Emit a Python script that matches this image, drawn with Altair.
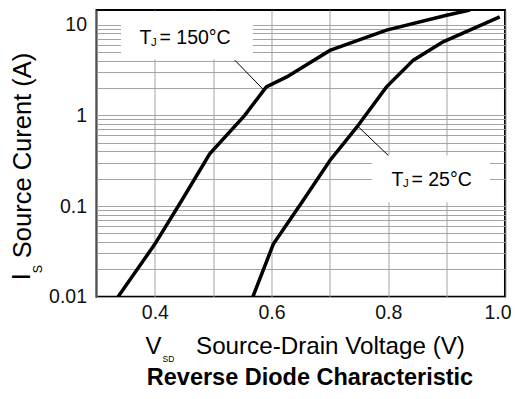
import altair as alt
import pandas as pd

# ---- data ----
v_150 = [0.337, 0.400, 0.446, 0.494, 0.554, 0.591, 0.626, 0.700, 0.797, 0.900, 0.940]
i_150 = [0.01, 0.038, 0.115, 0.377, 1.00, 2.06, 2.65, 5.20, 8.70, 12.7, 14.5]

v_25 = [0.568, 0.603, 0.654, 0.700, 0.746, 0.797, 0.843, 0.894, 0.991]
i_25 = [0.01, 0.038, 0.115, 0.318, 0.74, 2.06, 4.06, 6.46, 12.2]

series_names = ["TJ = 150°C", "TJ = 25°C"]

x_domain = [0.3, 1.0]
y_domain = [0.01, 14.5]
x_grid = [0.3, 0.4, 0.5, 0.6, 0.7, 0.8, 0.9, 1.0]
y_grid = [m * d for d in [0.01, 0.1, 1.0] for m in range(1, 10)] + [10.0]

# annotation label boxes (data coordinates) and leader lines
box_v1 = [0.342, 0.772]
box_v2 = [0.568, 0.974]
box_i1 = [4.16, 0.110]
box_i2 = [14.0, 0.361]
lead_v1 = [0.537, 0.746]
lead_v2 = [0.587, 0.800]
lead_i1 = [4.06, 0.776]
lead_i2 = [1.89, 0.361]

FONT = "Liberation Sans"

curves = pd.DataFrame(
    {"v": v_150 + v_25, "i": i_150 + i_25,
     "s": [series_names[0]] * len(v_150) + [series_names[1]] * len(v_25)}
)
boxes = pd.DataFrame({"v": box_v1, "v2": box_v2, "i": box_i1, "i2": box_i2})
leads = pd.DataFrame({"v": lead_v1, "v2": lead_v2, "i": lead_i1, "i2": lead_i2})
dummy = pd.DataFrame({"a": [0]})

xs = alt.Scale(domain=x_domain, nice=False, zero=False)
ys = alt.Scale(type="log", domain=y_domain, nice=False)

x_axis = alt.Axis(
    values=x_grid, grid=True, ticks=False, domain=False, title=None,
    labelExpr="(round(datum.value*10) % 2 == 0 && datum.value > 0.35) ? format(datum.value, '.1f') : ''",
    labelFontSize=19.5, labelFont=FONT, labelColor="#111111", labelPadding=7,
    gridColor="#a3a3a3", gridWidth=1, gridOpacity=1,
    labelFlush=True, labelFlushOffset=6, labelOverlap=False,
)
y_axis = alt.Axis(
    values=y_grid, grid=True, ticks=False, domain=False, title=None,
    labelExpr="abs(log(datum.value)/LN10 - round(log(datum.value)/LN10)) < 0.001 ? format(datum.value, '~g') : ''",
    labelFontSize=19.5, labelFont=FONT, labelColor="#111111", labelPadding=10,
    gridColor="#a3a3a3", gridWidth=1, gridOpacity=1, labelFlush=False, labelOverlap=False,
)

box_layer = alt.Chart(boxes).mark_rect(color="white", opacity=1).encode(
    x=alt.X("v:Q", scale=xs, axis=x_axis), x2="v2:Q",
    y=alt.Y("i:Q", scale=ys, axis=y_axis), y2="i2:Q",
)

lead_layer = alt.Chart(leads).mark_rule(color="black", strokeWidth=1).encode(
    x=alt.X("v:Q", scale=xs, axis=x_axis), x2="v2:Q",
    y=alt.Y("i:Q", scale=ys, axis=y_axis), y2="i2:Q",
)

lines = alt.Chart(curves).mark_line(color="black", strokeWidth=3.5, clip=True).encode(
    x=alt.X("v:Q", scale=xs, axis=x_axis),
    y=alt.Y("i:Q", scale=ys, axis=y_axis),
    detail="s:N",
)


def txt(text, x, y, size, align="left", angle=0, weight="normal"):
    return alt.Chart(dummy).mark_text(
        text=text, align=align, baseline="alphabetic", fontSize=size, font=FONT,
        angle=angle, fontWeight=weight, color="black",
    ).encode(x=alt.value(x), y=alt.value(y))


texts = [
    txt("T", 43, 34.5, 19.5),
    txt("J", 54.5, 36, 11.5),
    txt("= 150°C", 63, 34.5, 19.5),
    txt("T", 295, 176, 19.5),
    txt("J", 306.5, 177.5, 11.5),
    txt("= 25°C", 315, 176, 19.5),
    txt("Source Curent (A)", -66, 145.5, 25.5, align="center", angle=270),
    txt("I", -66.5, 266.7, 25, align="center", angle=270),
    txt("S", -54.5, 259, 12.5, align="center", angle=270),
    txt("V", 49, 344.3, 24),
    txt("SD", 66, 351.7, 8.5),
    txt("Source-Drain Voltage (V)", 99.5, 344, 24.2),
    txt("Reverse Diode Characteristic", 213.5, 375.5, 23.5, align="center", weight="bold"),
]

chart = alt.layer(box_layer, lead_layer, lines, *texts).properties(
    width=408.5, height=286.7,
    autosize=alt.AutoSizeParams(type="none"),
    padding={"left": 88.5, "top": 2, "right": 6, "bottom": 94},
).configure(background="white").configure_view(stroke="black", strokeWidth=2)

chart.save("out.html", embed_options={"renderer": "svg", "actions": False})
